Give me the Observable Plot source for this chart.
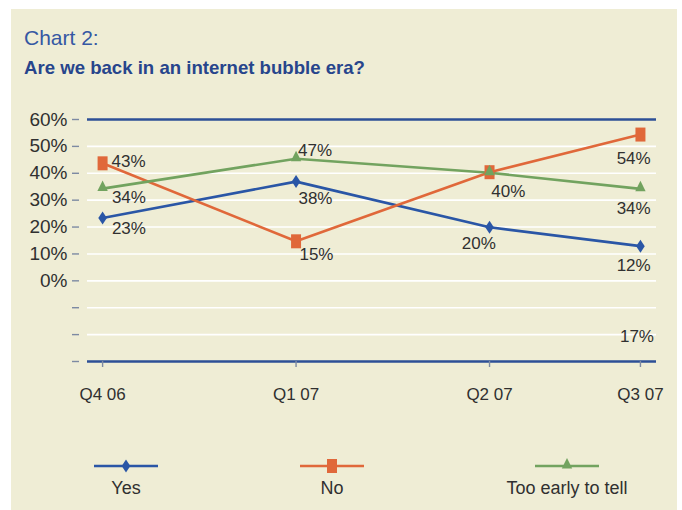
<!DOCTYPE html>
<html>
<head>
<meta charset="utf-8">
<script src="https://cdn.jsdelivr.net/npm/d3@7"></script>
<script src="https://cdn.jsdelivr.net/npm/@observablehq/plot@0.6"></script>
<style>
  html, body { margin: 0; padding: 0; background: #ffffff; }
  #page { position: relative; width: 682px; height: 510px; overflow: hidden; font-family: "Liberation Sans", Arial, sans-serif; }
  #panel { position: absolute; left: 11px; top: 9px; width: 666px; height: 501px; background: #efedd5; }
  .title { position: absolute; left: 24px; top: 27px; font-size: 21px; line-height: 21px; color: #3558a3; white-space: nowrap; }
  .subtitle { position: absolute; left: 24px; top: 59px; font-size: 18.6px; line-height: 18px; font-weight: bold; color: #27458c; white-space: nowrap; }
  #chart { position: absolute; left: 0; top: 100px; }
  .legend-item { position: absolute; top: 456px; width: 160px; text-align: center; }
  .legend-item svg { display: block; margin: 0 auto; }
  .legend-item span { display: block; margin-top: 3px; font-size: 18px; line-height: 18px; color: #303030; }
</style>
</head>
<body>
<div id="page">
  <div id="panel"></div>
  <div class="title">Chart 2:</div>
  <div class="subtitle">Are we back in an internet bubble era?</div>
  <div id="chart"></div>
  <div id="legend"></div>
</div>
<script>
// ---- data ----
const quarters = ["Q4 06", "Q1 07", "Q2 07", "Q3 07"];
const quarterPos = [0, 1, 2, 2.78];
const seriesNames = ["Yes", "No", "Too early to tell"];
const yesValues = [23.4, 36.9, 19.9, 12.9];
const noValues = [43.7, 14.7, 40.4, 54.4];
const earlyValues = [34.3, 45.4, 40.2, 34.2];
const yesLabels = ["23%", "38%", "20%", "12%"];
const noLabels = ["43%", "15%", "40%", "54%"];
const earlyLabels = ["34%", "47%", "", "34%"];
const strayLabelText = "17%";
const strayLabelValue = -20.5;
const strayLabelQuarter = "Q3 07";
const yTicks = [60, 50, 40, 30, 20, 10, 0, -10, -20, -30];
const gridLevels = [50, 40, 30, 20, 10, 0, -10, -20];
const frameLevels = [60, -30];

// ---- styling ----
const colors = ["#2a56a6", "#e0683a", "#72a35f"];
const textColor = "#303030";
const colorOf = Object.fromEntries(seriesNames.map((s, i) => [s, colors[i]]));
const symbolOf = {
  "Yes": { draw(c) { c.moveTo(0, -6.5); c.lineTo(4.3, 0); c.lineTo(0, 6.5); c.lineTo(-4.3, 0); c.closePath(); } },
  "No": { draw(c) { c.rect(-5, -7, 10, 14); } },
  "Too early to tell": { draw(c) { c.moveTo(0, -8); c.lineTo(5.2, 2.5); c.lineTo(-5.2, 2.5); c.closePath(); } }
};
const labelLayout = {
  "No|Q4 06": [9, -1.4, "start"],
  "Too early to tell|Q4 06": [9.3, 9.3, "start"],
  "Yes|Q4 06": [9.3, 10.3, "start"],
  "Too early to tell|Q1 07": [2, -8.2, "start"],
  "Yes|Q1 07": [2.4, 16.6, "start"],
  "No|Q1 07": [3.4, 12.9, "start"],
  "No|Q2 07": [1.7, 19.4, "start"],
  "Yes|Q2 07": [-10.7, 16.2, "middle"],
  "No|Q3 07": [-6.8, 23.6, "middle"],
  "Too early to tell|Q3 07": [-6.8, 19.6, "middle"],
  "Yes|Q3 07": [-6.8, 19.1, "middle"]
};

const valuesOf = { "Yes": yesValues, "No": noValues, "Too early to tell": earlyValues };
const labelsOf = { "Yes": yesLabels, "No": noLabels, "Too early to tell": earlyLabels };
const rows = seriesNames.flatMap(s => quarters.map((q, i) => ({
  series: s, quarter: q, pos: quarterPos[i], value: valuesOf[s][i], label: labelsOf[s][i]
})));

const labelMarks = rows.filter(r => r.label).map(r => {
  const [dx, dy, anchor] = labelLayout[r.series + "|" + r.quarter];
  return Plot.text([r], { x: "pos", y: "value", text: "label", dx, dy, textAnchor: anchor, fontSize: 17, fill: textColor });
});

const strayRow = { pos: quarterPos[quarters.indexOf(strayLabelQuarter)], value: strayLabelValue, label: strayLabelText };

const tickColor = "#7d8aa3";
const chart = Plot.plot({
  width: 682,
  height: 310,
  marginLeft: 87,
  marginRight: 26,
  marginTop: 19,
  marginBottom: 49,
  style: { background: "transparent", fontFamily: "'Liberation Sans', Arial, sans-serif", fontSize: "17px", color: textColor, overflow: "visible" },
  x: { domain: [-0.078, 2.863] },
  y: { domain: [-30, 60] },
  color: { domain: seriesNames, range: colors },
  marks: [
    Plot.ruleY(gridLevels, { stroke: "#ffffff", strokeWidth: 1.6 }),
    Plot.ruleY(frameLevels, { stroke: "#2d4f96", strokeWidth: 2.5 }),
    Plot.axisY({ ticks: yTicks, tickFormat: d => d >= 0 ? `${d}%` : "", tickSize: 7, tickPadding: 5, dx: -8, fontSize: 19, stroke: tickColor, fill: textColor, strokeWidth: 1.4, label: null }),
    Plot.axisX({ ticks: quarterPos, tickFormat: d => quarters[quarterPos.indexOf(d)], tickSize: 6, tickPadding: 20, fontSize: 17, stroke: tickColor, fill: textColor, strokeWidth: 1.4, label: null }),
    Plot.line(rows, { x: "pos", y: "value", z: "series", stroke: "series", strokeWidth: 2.6 }),
    ...seriesNames.map(s => Plot.dot(rows.filter(r => r.series === s), { x: "pos", y: "value", symbol: symbolOf[s], fill: colorOf[s], stroke: "none", r: 5 })),
    ...labelMarks,
    Plot.text([strayRow], { x: "pos", y: "value", text: "label", dx: -3.5, dy: 0.6, textAnchor: "middle", fontSize: 17, fill: textColor })
  ]
});
document.getElementById("chart").append(chart);

// ---- legend ----
const legendCenters = [126, 332, 567];
const legend = document.getElementById("legend");
seriesNames.forEach((s, i) => {
  const item = document.createElement("div");
  item.className = "legend-item";
  item.style.left = (legendCenters[i] - 80) + "px";
  const svg = d3.create("svg").attr("width", 64).attr("height", 20);
  svg.append("line").attr("x1", 0).attr("x2", 64).attr("y1", 10).attr("y2", 10).attr("stroke", colorOf[s]).attr("stroke-width", 2.6);
  svg.append("path").attr("transform", "translate(32,10)").attr("d", d3.symbol(symbolOf[s])()).attr("fill", colorOf[s]);
  item.append(svg.node());
  const label = document.createElement("span");
  label.textContent = s;
  item.append(label);
  legend.append(item);
});
</script>
</body>
</html>
